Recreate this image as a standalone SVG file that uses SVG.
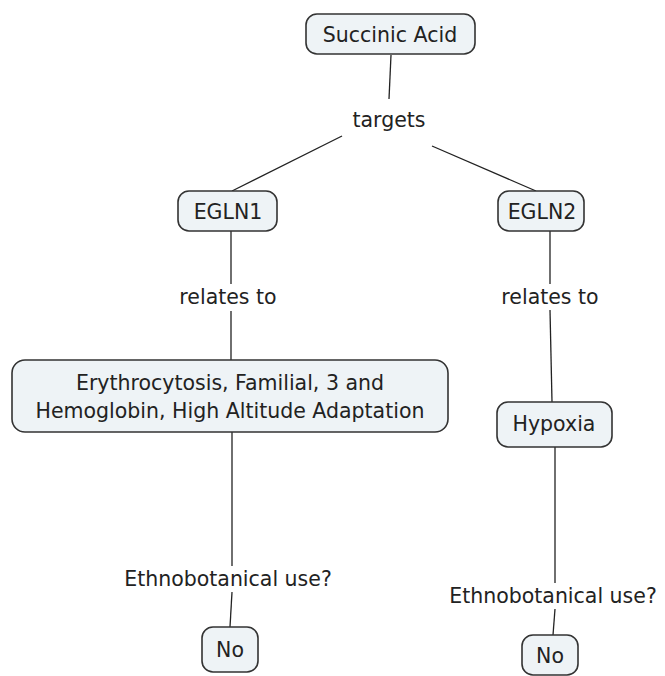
<svg xmlns="http://www.w3.org/2000/svg" width="665" height="676" viewBox="0 0 665 676">
<style>
.node rect{fill:#eef3f6;stroke:#333;stroke-width:1.6}
text{font-family:"DejaVu Sans",Verdana,sans-serif;font-size:20.5px;fill:#222;text-anchor:middle;dominant-baseline:central}
.conn line{stroke:#222;stroke-width:1.3}
</style>
<rect width="665" height="676" fill="#fff"/>
<g class="conn" id="connectors">
<line x1="391" y1="55" x2="389" y2="99"/>
<line x1="342" y1="136" x2="232" y2="191"/>
<line x1="432" y1="146" x2="536" y2="191"/>
<line x1="231" y1="231" x2="231" y2="284"/>
<line x1="231" y1="311" x2="231" y2="360"/>
<line x1="550" y1="231" x2="550" y2="284"/>
<line x1="550" y1="310" x2="552" y2="402"/>
<line x1="232" y1="432" x2="232" y2="566"/>
<line x1="232" y1="592" x2="230" y2="627"/>
<line x1="555" y1="447" x2="555" y2="583"/>
<line x1="555" y1="609" x2="553" y2="635"/>
</g>
<g class="node" id="succinic-acid"><rect x="306" y="14" width="169" height="40" rx="11"/><text x="390" y="35">Succinic Acid</text></g>
<text x="389" y="120" id="lbl-targets">targets</text>
<g class="node" id="egln1"><rect x="178" y="191" width="99" height="40" rx="11"/><text x="228" y="212">EGLN1</text></g>
<g class="node" id="egln2"><rect x="498" y="191" width="86" height="40" rx="11"/><text x="542" y="212">EGLN2</text></g>
<text x="228" y="297">relates to</text>
<text x="550" y="297">relates to</text>
<g class="node" id="erythro"><rect x="12" y="360" width="436" height="72" rx="13"/><text x="230" y="383">Erythrocytosis, Familial, 3 and</text><text x="230" y="411">Hemoglobin, High Altitude Adaptation</text></g>
<g class="node" id="hypoxia"><rect x="497" y="402" width="115" height="45" rx="11"/><text x="554" y="424">Hypoxia</text></g>
<text x="228" y="579">Ethnobotanical use?</text>
<text x="553" y="596">Ethnobotanical use?</text>
<g class="node" id="no1"><rect x="202" y="627" width="56" height="45" rx="11"/><text x="230" y="650">No</text></g>
<g class="node" id="no2"><rect x="522" y="635" width="56" height="40" rx="11"/><text x="550" y="656">No</text></g>
</svg>
